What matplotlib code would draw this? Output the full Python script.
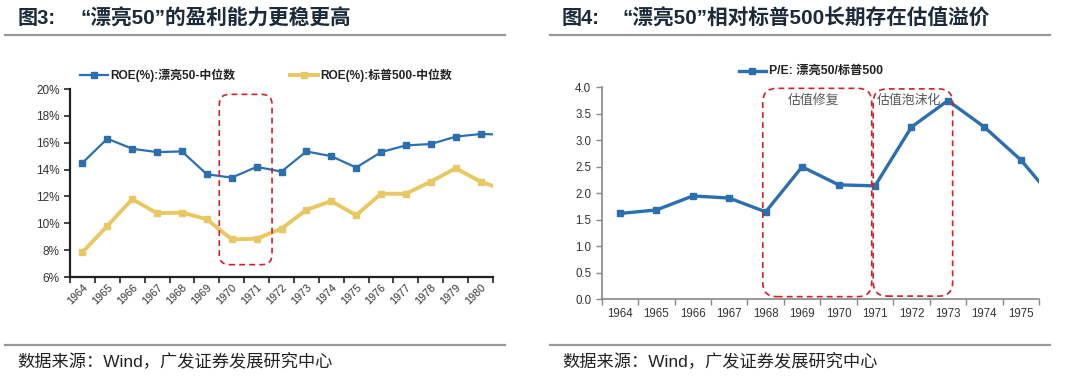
import matplotlib
matplotlib.use("Agg")
import matplotlib.pyplot as plt
from matplotlib.lines import Line2D
from matplotlib.patches import FancyBboxPatch
from matplotlib.transforms import IdentityTransform
import numpy as np

plt.rcParams['font.family'] = ['Liberation Sans', 'Noto Sans CJK SC']

# ---------------- data ----------------
years_left = ['1964', '1965', '1966', '1967', '1968', '1969', '1970', '1971', '1972',
              '1973', '1974', '1975', '1976', '1977', '1978', '1979', '1980']
# last value (1981) lies beyond the visible axis and is clipped at the edge
roe_nifty50 = [14.5, 16.3, 15.55, 15.3, 15.35, 13.65, 13.4, 14.2, 13.85,
               15.35, 15.0, 14.15, 15.3, 15.8, 15.9, 16.45, 16.65, 16.6]
roe_sp500 = [7.85, 9.8, 11.8, 10.75, 10.8, 10.3, 8.8, 8.85, 9.6,
             11.0, 11.65, 10.6, 12.2, 12.2, 13.1, 14.1, 13.1, 12.45]
left_yticks = [6, 8, 10, 12, 14, 16, 18, 20]

years_right = ['1964', '1965', '1966', '1967', '1968', '1969', '1970', '1971',
               '1972', '1973', '1974', '1975']
pe_ratio = [1.62, 1.685, 1.95, 1.91, 1.65, 2.5, 2.16, 2.14,
            3.25, 3.75, 3.25, 2.63, 1.82]
right_yticks = [0.0, 0.5, 1.0, 1.5, 2.0, 2.5, 3.0, 3.5, 4.0]

label_blue = 'ROE(%):漂亮50-中位数'
label_yellow = 'ROE(%):标普500-中位数'
label_pe = 'P/E: 漂亮50/标普500'
title_left_no, title_left = '图3:', '“漂亮50”的盈利能力更稳更高'
title_right_no, title_right = '图4:', '“漂亮50”相对标普500长期存在估值溢价'
source = '数据来源：Wind，广发证券发展研究中心'

BLUE = '#2B6FAF'
YELLOW = '#E8C862'
TXT = '#333333'

fig = plt.figure(figsize=(10.8, 3.77), dpi=100)
W, H = 1080, 377

def fx(px):
    return px / W

def fy(py):
    return 1 - py / H

# ---------------- titles / footers ----------------
for x0, x1, tno, tmain, txn, txm in [(5, 505, title_left_no, title_left, 18, 80),
                                      (550, 1050, title_right_no, title_right, 562, 623)]:
    fig.text(fx(txn), fy(19), tno, fontsize=14.5, fontweight='bold',
             color='#1c2a3a', va='center', ha='left')
    fig.text(fx(txm), fy(19), tmain, fontsize=14.9, fontweight='bold',
             color='#1c2a3a', va='center', ha='left')
    fig.add_artist(Line2D([fx(x0), fx(x1)], [fy(35), fy(35)], color='#999999', lw=1.6))
    fig.add_artist(Line2D([fx(x0), fx(x1)], [fy(345), fy(345)], color='#999999', lw=1.6))
    fig.text(fx(x0 + 12), fy(362), source, fontsize=12.4, color='#222222',
             va='center', ha='left')

# ---------------- left chart ----------------
axL = fig.add_axes([fx(70), fy(277), fx(493) - fx(70), (277 - 89) / H])
xl = np.arange(len(roe_nifty50))
axL.plot(xl, roe_nifty50, color=BLUE, lw=1.6, marker='s', markersize=4.2,
         label=label_blue, zorder=3)
axL.plot(xl, roe_sp500, color=YELLOW, lw=2.8, marker='s', markersize=4.2,
         label=label_yellow, zorder=3)
axL.set_xlim(-0.5, len(years_left) - 0.5)
axL.set_ylim(6, 20)
axL.set_yticks(left_yticks)
axL.set_yticklabels([f'{v}%' for v in left_yticks])
axL.set_xticks(np.arange(len(years_left)))
axL.set_xticklabels(years_left, rotation=45, ha='right', rotation_mode='anchor')
axL.set_xticks(np.arange(-0.5, len(years_left)), minor=True)
axL.tick_params(axis='x', which='major', length=0, labelsize=7.8, colors=TXT, pad=4)
axL.tick_params(axis='x', which='minor', length=4, width=1.2, color='#222222')
axL.tick_params(axis='y', length=4, width=1.2, color='#222222', labelsize=8.5, labelcolor=TXT)
for s in ['top', 'right']:
    axL.spines[s].set_visible(False)
for s in ['left', 'bottom']:
    axL.spines[s].set_linewidth(1.6)
    axL.spines[s].set_color('#222222')

# legend entries (manual placement)
for (x0, color, lw, lab) in [(80, BLUE, 1.6, label_blue), (290, YELLOW, 2.8, label_yellow)]:
    fig.add_artist(Line2D([fx(x0), fx(x0 + 28)], [fy(75), fy(75)], color=color, lw=lw))
    fig.add_artist(Line2D([fx(x0 + 14)], [fy(75)], color=color, marker='s',
                          markersize=4.2, lw=0))
    fig.text(fx(x0 + 30), fy(75), lab, fontsize=8.6, fontweight='bold',
             color='#222222', va='center', ha='left')

# ---------------- right chart ----------------
axR = fig.add_axes([fx(601.7), fy(299.3), fx(1039) - fx(601.7), (299.3 - 87.3) / H])
xr = np.arange(len(pe_ratio))
axR.plot(xr, pe_ratio, color=BLUE, lw=2.4, marker='s', markersize=5, zorder=3)
axR.set_xlim(-0.5, len(years_right) - 0.5)
axR.set_ylim(0, 4)
axR.set_yticks(right_yticks)
axR.set_yticklabels([f'{v:.1f}' for v in right_yticks])
axR.set_xticks(np.arange(len(years_right)))
axR.set_xticklabels(years_right)
axR.set_xticks(np.arange(-0.5, len(years_right)), minor=True)
axR.tick_params(axis='x', which='major', length=0, labelsize=8.3, colors=TXT, pad=6)
axR.tick_params(axis='x', which='minor', length=4, width=1, color='#888888')
axR.tick_params(axis='y', length=4, width=1, color='#888888', labelsize=8.3, labelcolor=TXT)
for s in ['top', 'right']:
    axR.spines[s].set_visible(False)
for s in ['left', 'bottom']:
    axR.spines[s].set_linewidth(1.2)
    axR.spines[s].set_color('#888888')

fig.add_artist(Line2D([fx(739), fx(766)], [fy(71), fy(71)], color=BLUE, lw=2.4))
fig.add_artist(Line2D([fx(752)], [fy(71)], color=BLUE, marker='s', markersize=5, lw=0))
fig.text(fx(769), fy(71), label_pe, fontsize=8.8, fontweight='bold',
         color='#222222', va='center', ha='left')

# ---------------- dashed rounded boxes ----------------
def dashed_box(ax, x0, x1, y0, y1, r=12):
    (px0, py0) = ax.transData.transform((x0, y0))
    (px1, py1) = ax.transData.transform((x1, y1))
    p = FancyBboxPatch((px0, py0), px1 - px0, py1 - py0,
                       boxstyle=f'round,pad=0,rounding_size={r}',
                       transform=IdentityTransform(), fill=False,
                       edgecolor='#D0202A', lw=1.2, linestyle=(0, (3.5, 2.5)),
                       zorder=5, clip_on=False)
    fig.add_artist(p)

dashed_box(axL, 5.5, 7.62, 6.92, 19.6, r=10)
dashed_box(axR, 3.92, 6.91, 0.05, 3.98, r=14)
dashed_box(axR, 6.95, 9.13, 0.06, 3.97, r=14)

axR.text(4.6, 3.75, '估值修复', fontsize=9.3, color='#555555', va='center', ha='left')
axR.text(7.05, 3.75, '估值泡沫化', fontsize=9.3, color='#555555', va='center', ha='left')

fig.savefig('out.png', dpi=100)
